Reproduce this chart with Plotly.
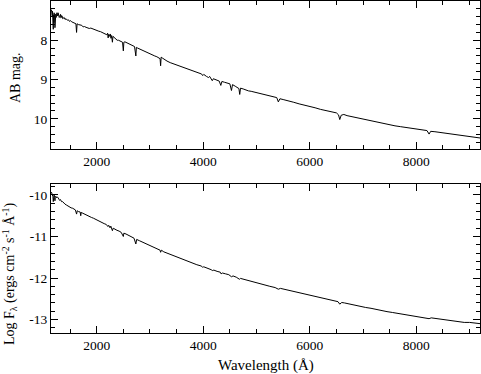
import plotly.graph_objects as go

# ---------------- data ----------------
wl_top = [1150, 1155, 1160, 1165, 1170, 1174, 1178, 1182, 1185, 1188, 1192, 1196, 1200, 1205, 1210,
          1216, 1222, 1227, 1232, 1238, 1245, 1252, 1260, 1268, 1275, 1282, 1290, 1297,
          1305, 1312, 1320, 1327, 1335, 1342, 1350, 1360, 1370, 1380, 1390, 1405, 1425, 1450, 1470, 1490,
          1510, 1530, 1550, 1570, 1590, 1610, 1622, 1632, 1655, 1680, 1700, 1720, 1745, 1770, 1800,
          1830, 1860, 1890, 1920, 1950, 1980, 2010, 2040, 2070, 2100, 2130, 2160, 2190, 2205, 2215,
          2225, 2240, 2255, 2268, 2280, 2295, 2305, 2320, 2340, 2360, 2385, 2410, 2435, 2460, 2485,
          2500, 2510, 2530, 2560, 2590, 2620, 2650, 2680, 2710, 2735, 2745, 2770, 2800, 2830, 2860,
          2890, 2920, 2950, 2980, 3010, 3050, 3090, 3130, 3170, 3190, 3200, 3210, 3230, 3270, 3320,
          3380, 3440, 3500, 3560, 3620, 3680, 3740, 3800, 3860, 3920, 3970, 3990, 4010, 4060, 4100,
          4120, 4150, 4170, 4190, 4250, 4300, 4330, 4350, 4400, 4450, 4500, 4530, 4550, 4600, 4640,
          4670, 4685, 4700, 4750, 4800, 4850, 4900, 5000, 5100, 5200, 5300, 5380, 5410, 5440, 5500,
          5600, 5700, 5800, 5900, 6000, 6100, 6200, 6300, 6400, 6500, 6540, 6563, 6590, 6640, 6700,
          6800, 6900, 7000, 7100, 7200, 7300, 7400, 7500, 7600, 7700, 7800, 7900, 8000, 8100, 8200,
          8240, 8270, 8350, 8450, 8550, 8650, 8750, 8850, 8950, 9050, 9200]
mag_top = [7.22, 7.34, 7.28, 7.38, 7.26, 7.50, 7.45, 7.66, 7.72, 7.40, 7.35, 7.55, 7.30, 7.44, 7.40,
           7.68, 7.38, 7.46, 7.33, 7.42, 7.40, 7.30, 7.33, 7.38, 7.30, 7.36, 7.36, 7.42,
           7.40, 7.35, 7.34, 7.43, 7.42, 7.37, 7.38, 7.45, 7.44, 7.41, 7.42, 7.47, 7.45, 7.49, 7.48, 7.52,
           7.50, 7.53, 7.54, 7.56, 7.55, 7.58, 7.80, 7.58, 7.60, 7.61, 7.63, 7.62, 7.66, 7.65, 7.67,
           7.68, 7.70, 7.69, 7.71, 7.72, 7.73, 7.75, 7.77, 7.78, 7.80, 7.82, 7.83, 7.86, 7.82, 7.94,
           7.85, 7.90, 7.84, 7.95, 7.88, 8.05, 7.90, 7.92, 7.96, 7.98, 8.00, 8.00, 8.02, 8.04, 8.05,
           8.27, 8.05, 8.04, 8.06, 8.08, 8.10, 8.12, 8.14, 8.16, 8.40, 8.18, 8.20, 8.22, 8.24, 8.26,
           8.28, 8.30, 8.31, 8.33, 8.35, 8.37, 8.40, 8.42, 8.44, 8.47, 8.65, 8.43, 8.45, 8.49, 8.53,
           8.57, 8.60, 8.63, 8.66, 8.70, 8.73, 8.76, 8.79, 8.81, 8.83, 8.86, 8.90, 8.87, 8.92, 8.95,
           8.92, 8.98, 9.03, 8.98, 9.01, 9.04, 9.15, 9.05, 9.07, 9.09, 9.11, 9.28, 9.13, 9.17, 9.20,
           9.23, 9.38, 9.22, 9.24, 9.27, 9.29, 9.30, 9.33, 9.37, 9.40, 9.43, 9.46, 9.57, 9.49, 9.51,
           9.54, 9.58, 9.62, 9.65, 9.68, 9.72, 9.76, 9.79, 9.82, 9.85, 9.90, 10.02, 9.91, 9.89, 9.92,
           9.95, 9.99, 10.02, 10.05, 10.07, 10.10, 10.12, 10.15, 10.18, 10.20, 10.22, 10.24, 10.26, 10.28, 10.30,
           10.39, 10.32, 10.33, 10.35, 10.37, 10.39, 10.41, 10.43, 10.45, 10.47, 10.49]

wl_bot = [1150, 1160, 1170, 1178, 1185, 1192, 1200, 1210, 1216, 1222, 1232, 1245, 1260, 1275, 1290,
          1305, 1320, 1340, 1360, 1380, 1405, 1430, 1460, 1490, 1520, 1550, 1580, 1600, 1622, 1635,
          1660, 1690, 1700, 1710, 1740, 1780, 1820, 1860, 1900, 1940, 1980, 2020, 2060, 2100, 2140,
          2180, 2210, 2225, 2250, 2265, 2280, 2295, 2310, 2340, 2380, 2420, 2460, 2500, 2510, 2550,
          2600, 2650, 2700, 2735, 2750, 2800, 2850, 2900, 2950, 3000, 3050, 3100, 3150, 3190, 3200,
          3215, 3260, 3320, 3400, 3480, 3560, 3640, 3720, 3800, 3880, 3960, 3990, 4010, 4080, 4120,
          4150, 4170, 4200, 4260, 4320, 4335, 4360, 4420, 4480, 4530, 4560, 4620, 4680, 4700, 4780,
          4860, 4950, 5050, 5150, 5250, 5350, 5410, 5450, 5550, 5650, 5750, 5850, 5950, 6050, 6150,
          6250, 6350, 6450, 6530, 6563, 6600, 6650, 6750, 6850, 6950, 7050, 7150, 7250, 7350, 7450,
          7550, 7650, 7750, 7850, 7950, 8050, 8150, 8240, 8280, 8400, 8500, 8600, 8700, 8800, 8900,
          9000, 9100, 9200]
logf_bot = [-9.93, -9.98, -9.97, -10.04, -10.16, -10.02, -10.00, -10.06, -10.14, -10.06, -10.03, -10.07, -10.05, -10.06, -10.10,
            -10.13, -10.11, -10.16, -10.16, -10.20, -10.22, -10.24, -10.27, -10.29, -10.31, -10.32, -10.35, -10.36, -10.46, -10.38,
            -10.40, -10.41, -10.50, -10.42, -10.44, -10.47, -10.49, -10.52, -10.54, -10.56, -10.59, -10.61, -10.64, -10.66, -10.69,
            -10.71, -10.76, -10.73, -10.79, -10.75, -10.80, -10.86, -10.80, -10.83, -10.85, -10.87, -10.90, -11.00, -10.92, -10.94,
            -10.98, -11.01, -11.04, -11.18, -11.07, -11.10, -11.13, -11.16, -11.19, -11.22, -11.24, -11.27, -11.30, -11.33, -11.38,
            -11.33, -11.37, -11.40, -11.44, -11.48, -11.53, -11.57, -11.61, -11.64, -11.68, -11.71, -11.74, -11.73, -11.76, -11.78,
            -11.80, -11.82, -11.81, -11.84, -11.86, -11.90, -11.88, -11.90, -11.92, -11.97, -11.95, -11.98, -12.03, -12.01, -12.04,
            -12.07, -12.10, -12.13, -12.17, -12.20, -12.23, -12.27, -12.25, -12.28, -12.31, -12.34, -12.37, -12.40, -12.43, -12.46,
            -12.49, -12.52, -12.55, -12.57, -12.63, -12.59, -12.60, -12.63, -12.66, -12.68, -12.71, -12.73, -12.76, -12.78, -12.81,
            -12.83, -12.85, -12.87, -12.89, -12.91, -12.93, -12.95, -12.98, -12.96, -12.98, -13.00, -13.02, -13.04, -13.05, -13.07,
            -13.07, -13.08, -13.10]

x_tickvals = [2000, 4000, 6000, 8000]
x_ticktext = ["2000", "4000", "6000", "8000"]
mag_tickvals = [8, 9, 10]
mag_ticktext = ["8", "9", "10"]
logf_tickvals = [-10, -11, -12, -13]
logf_ticktext = ["-10", "-11", "-12", "-13"]

# ---------------- figure ----------------
FONT = "Liberation Serif"
fig = go.Figure()
fig.add_trace(go.Scatter(x=wl_top, y=mag_top, mode="lines",
                         line=dict(color="black", width=1), xaxis="x", yaxis="y",
                         showlegend=False, hoverinfo="skip"))
fig.add_trace(go.Scatter(x=wl_bot, y=logf_bot, mode="lines",
                         line=dict(color="black", width=1), xaxis="x2", yaxis="y2",
                         showlegend=False, hoverinfo="skip"))

common = dict(showline=True, linecolor="black", linewidth=1, mirror="ticks",
              ticks="inside", tickcolor="black", tickwidth=1, ticklen=7,
              showgrid=False, zeroline=False,
              tickfont=dict(family=FONT, size=13.5, color="black"))

xminor = dict(ticks="inside", ticklen=4, tickcolor="black", tickwidth=1,
              dtick=500, tick0=0, showgrid=False)
yminor = dict(ticks="inside", ticklen=4, tickcolor="black", tickwidth=1,
              dtick=0.2, tick0=0, showgrid=False)

xr = [1142, 9196]
fig.update_layout(
    width=481, height=374,
    margin=dict(l=51, r=1, t=1, b=41),
    paper_bgcolor="white", plot_bgcolor="white",
    xaxis=dict(common, domain=[0, 1], anchor="y", range=xr,
               tickmode="array", tickvals=x_tickvals, ticktext=x_ticktext, minor=xminor),
    yaxis=dict(common, domain=[0.5542, 1], anchor="x", range=[10.77, 7.0],
               tickmode="array", tickvals=mag_tickvals, ticktext=mag_ticktext, minor=yminor),
    xaxis2=dict(common, domain=[0, 1], anchor="y2", range=xr,
                tickmode="array", tickvals=x_tickvals, ticktext=x_ticktext, minor=xminor),
    yaxis2=dict(common, domain=[0, 0.4488], anchor="x2", range=[-13.325, -9.735],
                tickmode="array", tickvals=logf_tickvals, ticktext=logf_ticktext, minor=yminor),
    annotations=[
        dict(text="AB mag.", xref="paper", yref="paper", x=-0.084, y=0.771,
             xanchor="center", yanchor="middle", textangle=-90, showarrow=False,
             font=dict(family=FONT, size=14, color="black")),
        dict(text="Log F<sub>λ</sub> (ergs cm<sup>-2</sup> s<sup>-1</sup> Å<sup>-1</sup>)",
             xref="paper", yref="paper", x=-0.096, y=0.18, xanchor="center", yanchor="middle",
             textangle=-90, showarrow=False, font=dict(family=FONT, size=14, color="black")),
        dict(text="Wavelength (Å)", xref="paper", yref="paper", x=0.501, y=-0.099,
             xanchor="center", yanchor="middle", showarrow=False,
             font=dict(family=FONT, size=15, color="black")),
    ],
)

fig.write_html("out.html", config={"displayModeBar": False},
               post_script="document.body.style.margin='0';document.body.style.overflow='hidden';")
